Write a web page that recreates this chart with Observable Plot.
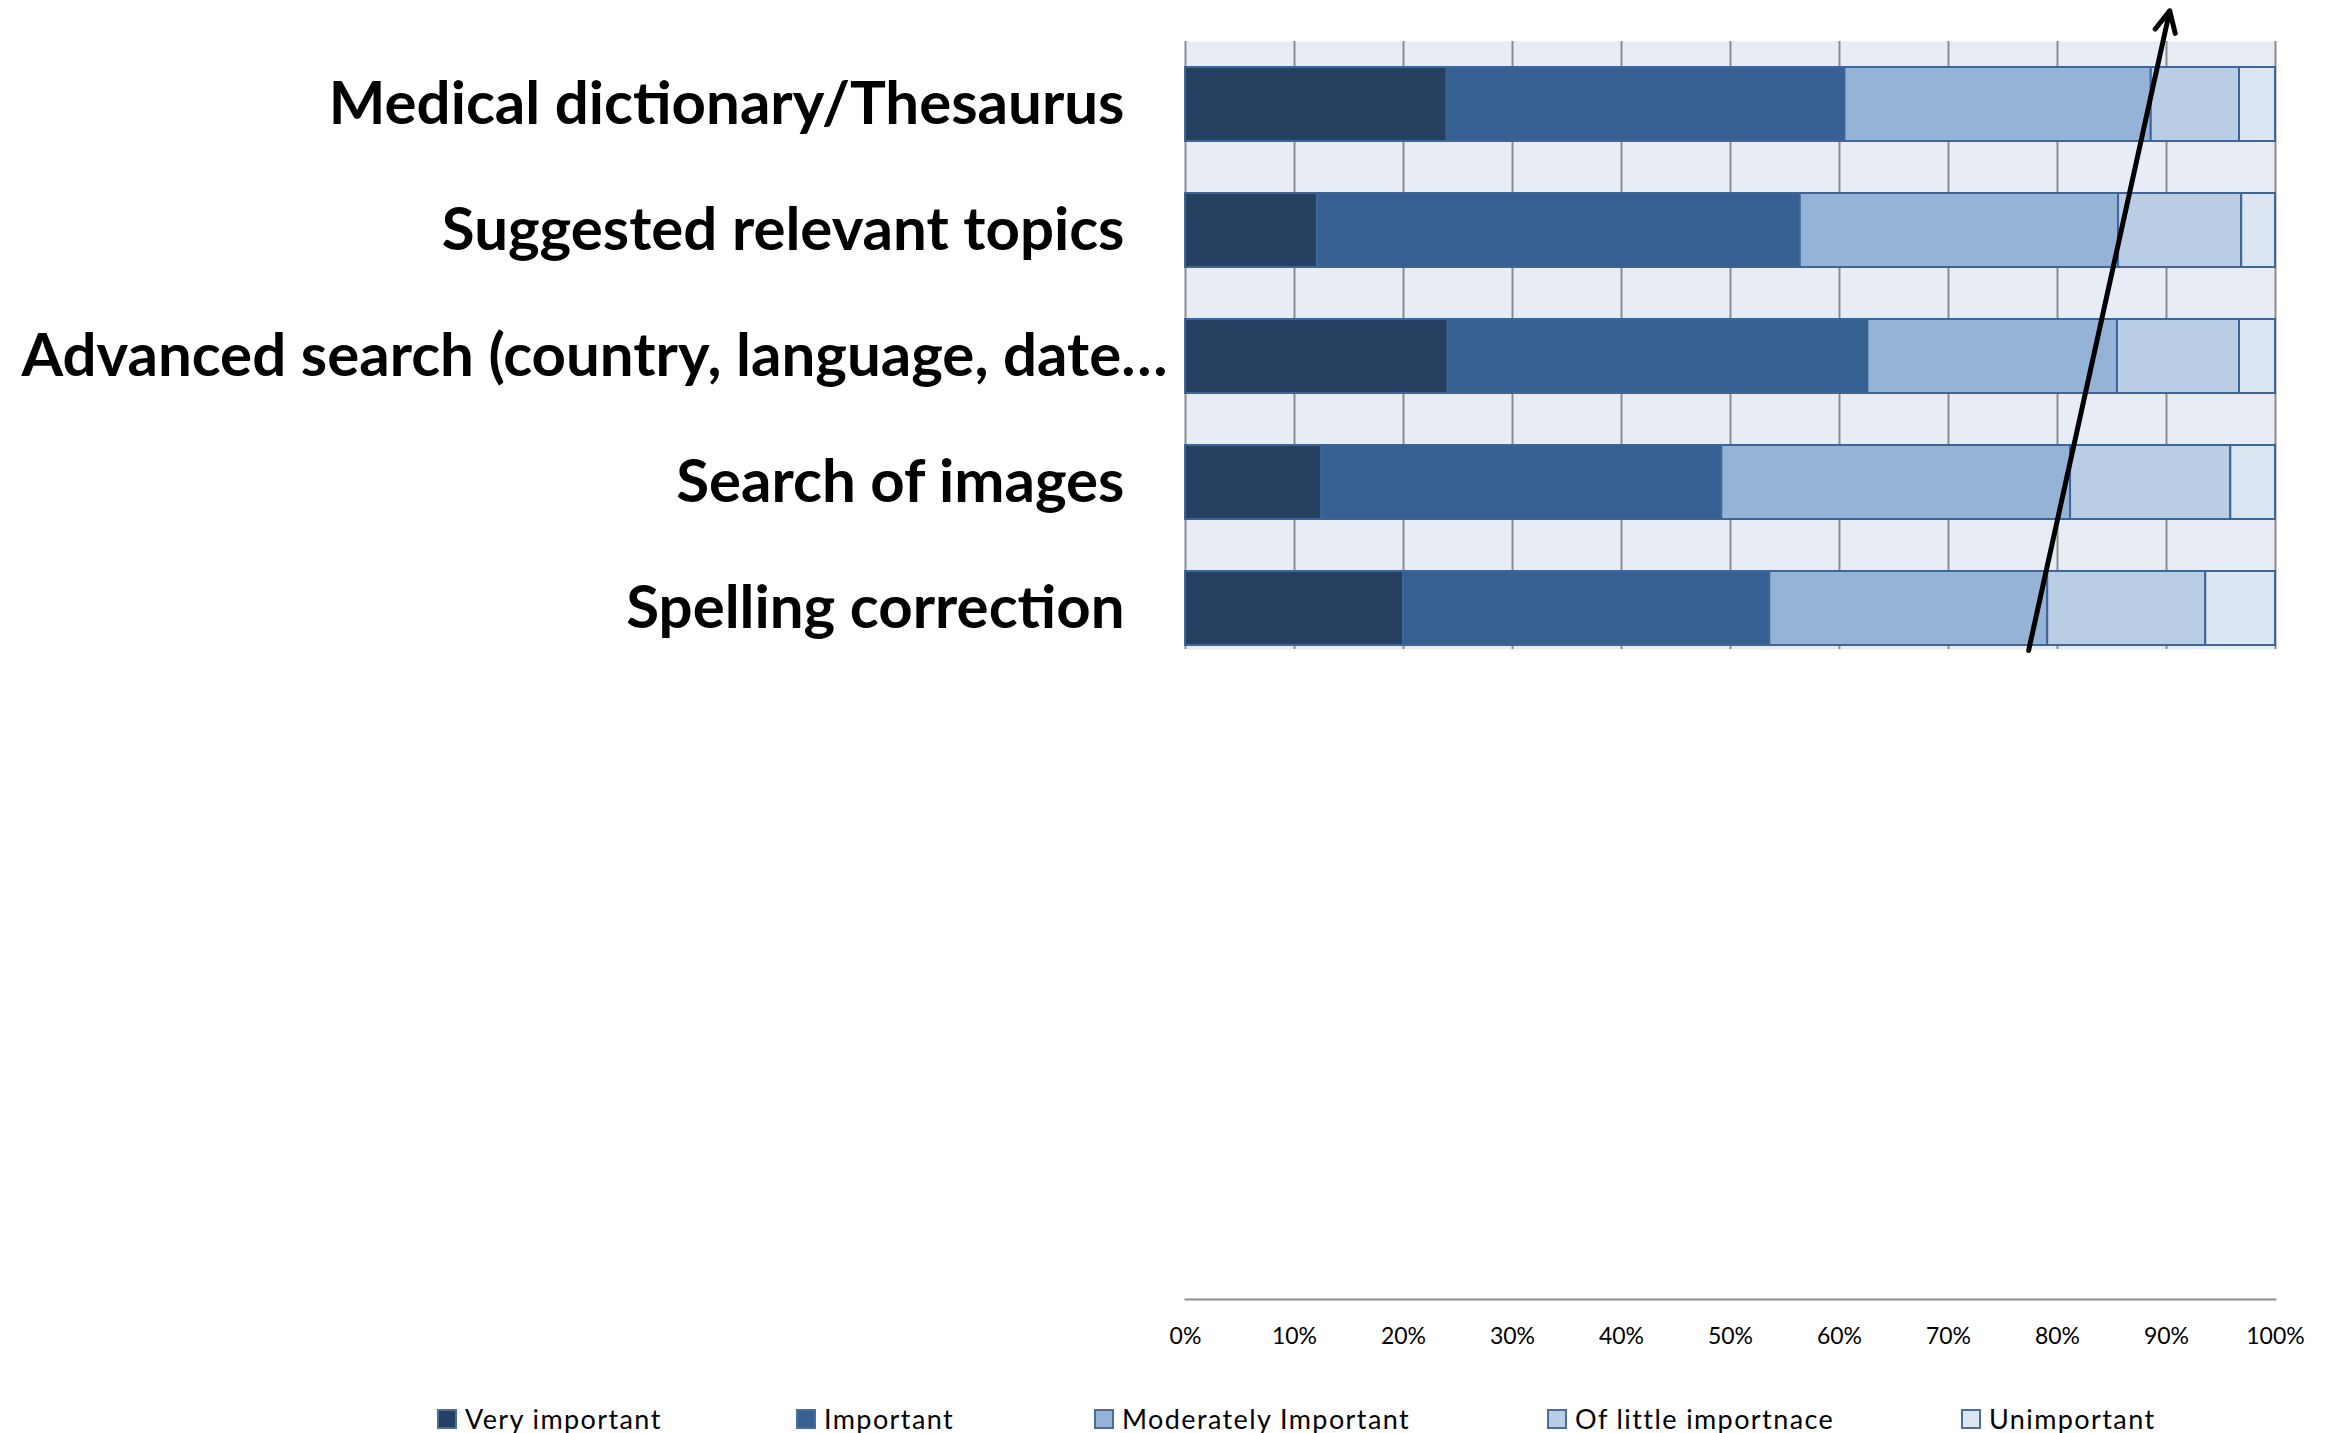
<!DOCTYPE html>
<html>
<head>
<meta charset="utf-8">
<script src="https://cdn.jsdelivr.net/npm/d3@7"></script>
<script src="https://cdn.jsdelivr.net/npm/@observablehq/plot@0.6"></script>
<style>
  html, body { margin: 0; padding: 0; background: #fff; }
  body { width: 2329px; height: 1433px; overflow: hidden; position: relative; }
  #chart { position: absolute; left: 0; top: 0; }
  #legend { position: absolute; left: 438px; top: 1402px; }
  .leg-swatches { font-family: Lato, sans-serif !important; font-size: 27px !important; letter-spacing: 1.4px; color: #000 !important; margin: 0 !important; line-height: 30px; white-space: nowrap; }
  .leg-swatch { margin-right: 0 !important; }
  span.leg-swatch:nth-of-type(1) { width: 359px; }
  span.leg-swatch:nth-of-type(2) { width: 298px; }
  span.leg-swatch:nth-of-type(3) { width: 453px; }
  span.leg-swatch:nth-of-type(4) { width: 414px; }
  .leg-swatch > svg { margin-right: 9px !important; }
  .leg-swatch rect { stroke: #4a6e9c; stroke-width: 2px; }
</style>
</head>
<body>
<div id="chart"></div>
<div id="legend"></div>
<script>
// ---- data (percent of respondents) ----
const categories = [
  "Medical dictionary/Thesaurus",
  "Suggested relevant topics",
  "Advanced search (country, language, date…",
  "Search of images",
  "Spelling correction"
];
const levels = ["Very important", "Important", "Moderately Important", "Of little importnace", "Unimportant"];
const veryImportant = [24.0, 12.1, 24.1, 12.5, 20.0];
const important     = [36.5, 44.3, 38.5, 36.7, 33.6];
const moderately    = [28.1, 29.2, 22.9, 32.0, 25.5];
const ofLittle      = [8.1, 11.3, 11.2, 14.7, 14.5];
const unimportant   = [3.3, 3.1, 3.3, 4.1, 6.4];
const xTicks = [0, 10, 20, 30, 40, 50, 60, 70, 80, 90, 100];
const colors = ["#254061", "#376092", "#95B3D7", "#B9CDE5", "#DCE6F2"];
// annotation arrow: x (percent) where it crosses the bottom and top category centres
const trendArrow = [{from: 78.2, to: 88.4}];

const series = [veryImportant, important, moderately, ofLittle, unimportant];
const table = categories.flatMap((c, i) => levels.map((l, j) => ({category: c, level: l, value: series[j][i]})));
const longLabel = (d) => d.endsWith("…");

const plot = Plot.plot({
  width: 2329,
  height: 1380,
  marginLeft: 1185,
  marginRight: 54,
  marginTop: 41,
  marginBottom: 731,
  style: {fontFamily: "Lato, sans-serif", fontSize: "23px", color: "#000", background: "transparent", overflow: "visible"},
  x: {domain: [0, 100], axis: null},
  y: {domain: categories, axis: null, paddingInner: 0.4127, paddingOuter: 0.119, align: 0.867},
  color: {domain: levels, range: colors},
  marks: [
    Plot.frame({fill: "#e8ecf4", stroke: null}),
    Plot.gridX(xTicks, {stroke: "#8c8c8c", strokeOpacity: 1, strokeWidth: 2}),
    Plot.barX(table, Plot.stackX({x: "value", y: "category", fill: "level", stroke: "#3d6595", strokeWidth: 2})),
    Plot.text(categories.filter(d => !longLabel(d)), {x: () => 0, y: d => d, text: d => d, textAnchor: "end", dx: -61, fontSize: 60, fontWeight: "bold", fill: "#000"}),
    Plot.text(categories.filter(longLabel), {x: () => 0, y: d => d, text: d => d, textAnchor: "end", dx: -18, fontSize: 60, fontWeight: "bold", fill: "#000"}),
    Plot.arrow(trendArrow, {
      x1: "from", x2: "to",
      y1: () => categories[categories.length - 1], y2: () => categories[0],
      stroke: "#000", strokeWidth: 5, headLength: 7, headAngle: 52,
      insetStart: -43, insetEnd: -96
    }),
    Plot.frame({anchor: "bottom", stroke: "#8c8c8c", strokeWidth: 2, dy: 650}),
    Plot.axisX(xTicks, {anchor: "bottom", tickSize: 0, tickPadding: 28, tickFormat: d => d + "%", dy: 650, fontSize: 23, label: null})
  ]
});
document.getElementById("chart").append(plot);

const legend = Plot.legend({
  color: {type: "ordinal", domain: levels, range: colors},
  legend: "swatches",
  swatchSize: 18,
  className: "leg"
});
document.getElementById("legend").append(legend);
</script>
</body>
</html>
